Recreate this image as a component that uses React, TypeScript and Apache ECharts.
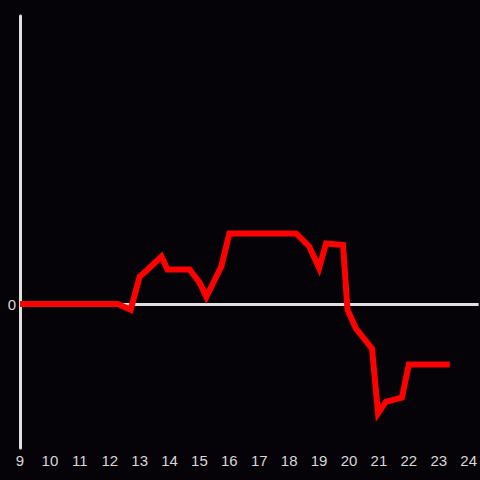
import React, { useEffect, useRef } from "react";
import * as echarts from "echarts";

const hours = [9, 12.27, 12.7, 13.0, 13.27, 13.73, 13.93, 14.67, 15.0, 15.23, 15.73, 16.0, 18.23, 18.67, 19.0, 19.23, 19.8, 19.95, 20.23, 20.77, 20.97, 21.23, 21.77, 22.0, 23.37];
const values = [0, 0, -0.04, 0.19, 0.24, 0.33, 0.24, 0.24, 0.15, 0.05, 0.26, 0.49, 0.49, 0.4, 0.25, 0.42, 0.41, -0.04, -0.17, -0.31, -0.76, -0.68, -0.65, -0.42, -0.42];

export default function App() {
  const ref = useRef<HTMLDivElement>(null);
  useEffect(() => {
    document.body.style.margin = "0";
    const chart = echarts.init(ref.current!, null, { renderer: "svg" });
    chart.setOption({
      animation: false,
      backgroundColor: "#050208",
      grid: { left: 20, right: 0, top: 16, bottom: 32 },
      xAxis: {
        type: "value",
        min: 9,
        max: 24.333,
        interval: 1,
        axisLine: { show: false },
        axisTick: { show: false },
        splitLine: { show: false },
        axisLabel: {
          color: "#d8d8d8",
          fontSize: 15,
          fontFamily: "Liberation Sans, Arial, sans-serif",
          margin: 5,
          showMaxLabel: false,
          formatter: (v: number) => (Number.isInteger(v) ? String(v) : ""),
        },
      },
      yAxis: {
        type: "value",
        min: -1,
        max: 2,
        interval: 1,
        axisLine: { show: true, onZero: false, lineStyle: { color: "#e0e0e0", width: 3 } },
        axisTick: { show: false },
        splitLine: { show: false },
        axisLabel: {
          color: "#d8d8d8",
          fontSize: 15,
          fontFamily: "Liberation Sans, Arial, sans-serif",
          margin: 4,
          formatter: (v: number) => (v === 0 ? "0" : ""),
        },
      },
      series: [
        {
          type: "line",
          data: hours.map((h, i) => [h, values[i]]),
          symbol: "none",
          lineStyle: { color: "#ff0000", width: 6, join: "miter" },
          z: 3,
          markLine: {
            silent: true,
            symbol: "none",
            label: { show: false },
            lineStyle: { color: "#e0e0e0", width: 3, type: "solid" },
            data: [{ yAxis: 0 }],
            z: 1,
          },
        },
      ],
    });
    return () => chart.dispose();
  }, []);
  return <div ref={ref} style={{ width: 480, height: 480 }} />;
}
